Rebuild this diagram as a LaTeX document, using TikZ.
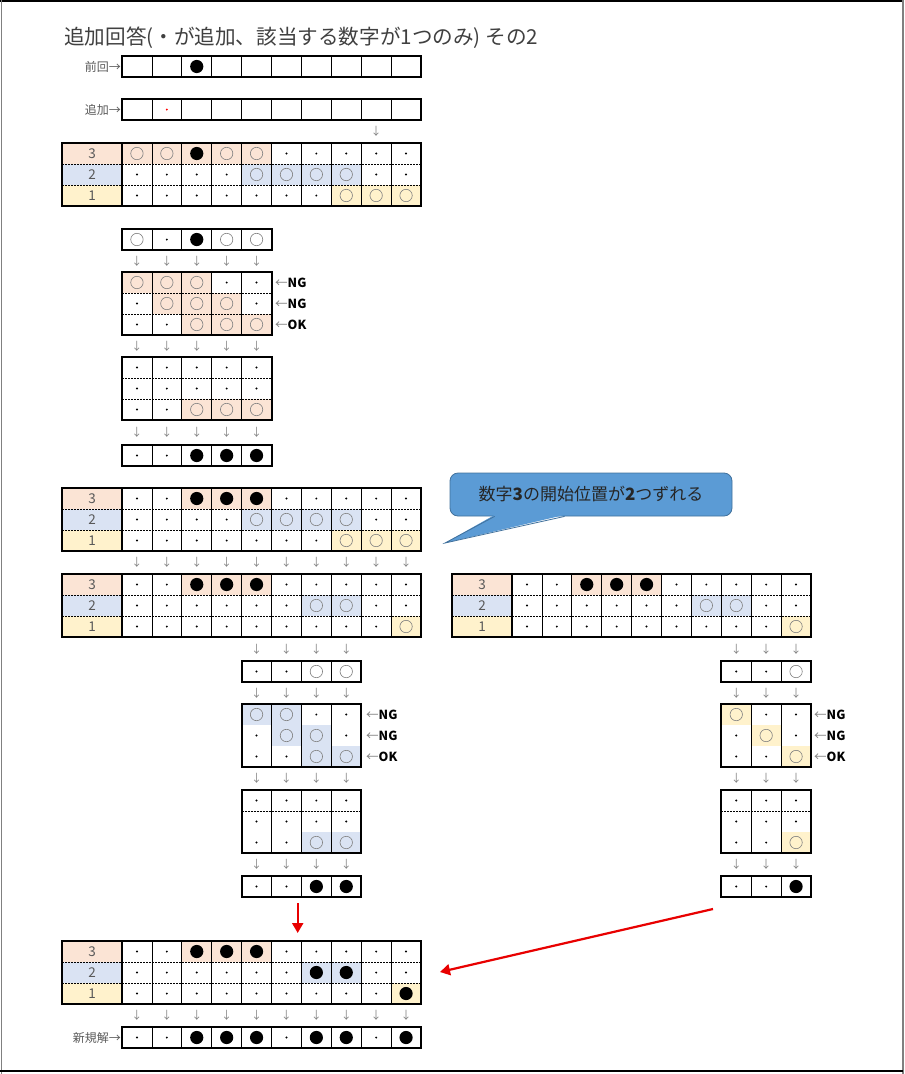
\documentclass[tikz,border=0pt]{standalone}
\usepackage{fontspec}
\setmainfont{Noto Sans CJK JP}
\usetikzlibrary{arrows.meta}

\definecolor{peachbg}{RGB}{251,228,213}
\definecolor{skybg}{RGB}{218,227,243}
\definecolor{creambg}{RGB}{255,242,204}
\definecolor{notefill}{RGB}{91,155,213}
\definecolor{noteedge}{RGB}{65,113,156}
\definecolor{inkgray}{RGB}{89,89,89}
\definecolor{arrowred}{RGB}{232,0,0}

\def\cellw{29.9}
\def\rowh{21}

\tikzset{
  cell/.style={rectangle, minimum width=\cellw, minimum height=\rowh, inner sep=0pt, outer sep=0pt},
  mNone/.style={cell},
  mDot/.style={cell, path picture={\fill[black] (path picture bounding box.center) circle (1.1);}},
  mRed/.style={cell, path picture={\fill[red] (path picture bounding box.center) circle (1.1);}},
  mRing/.style={cell, path picture={\draw[gray, line width=0.6pt] (path picture bounding box.center) circle (6.2);}},
  mDisc/.style={cell, path picture={\fill[black] (path picture bounding box.center) circle (6.6);}},
  shP/.style={fill=peachbg}, shB/.style={fill=skybg}, shY/.style={fill=creambg}, shN/.style={},
  labcell/.style={rectangle, minimum width=60, minimum height=\rowh, inner sep=0pt, outer sep=0pt,
    text=inkgray, font=\fontsize{13.5}{13.5}\selectfont},
  cellline/.style={line width=0.8pt},
  rowsep/.style={line width=0.8pt, dash pattern=on 2pt off 1pt},
  border/.style={line width=2pt},
  dnarrow/.style={text=gray, font=\fontsize{11}{11}\selectfont, inner sep=0pt},
  sidelab/.style={anchor=east, text=inkgray, font=\fontsize{12}{12}\selectfont, inner sep=0pt},
  verdict/.style={anchor=west, font=\fontsize{12.5}{12.5}\selectfont, inner sep=0pt},
  notebox/.style={fill=notefill, draw=noteedge, line width=0.8pt, rounded corners=8pt,
    minimum width=282, minimum height=43, text=black!85, font=\fontsize{17}{17}\selectfont},
  redarrow/.style={arrowred, line width=2.2pt, -{Triangle[length=10pt,width=11pt]}}
}

% one row of cells: name, left x, top y, list of mark/shade
\newcommand{\cellrow}[4]{%
  \foreach \m/\s [count=\i] in {#4}
    \node[\m,\s] (#1-\i) at ({#2+(\i-0.5)*\cellw},{#3+\rowh/2}) {};}
% cell lines and outer border: left x, top y, cells, rows
\newcommand{\blockbox}[4]{%
  \foreach \k in {1,...,#3} \draw[cellline] ({#1+\k*\cellw},{#2}) -- ++(0,{#4*\rowh});
  \draw[border] ({#1},{#2}) rectangle ++({#3*\cellw},{#4*\rowh});}
\newcommand{\rowsepline}[3]{\draw[rowsep] ({#1},{#2}) -- ++({#3},0);}
% arrows under cells: name, left x, y, count
\newcommand{\downs}[4]{%
  \foreach \i in {1,...,#4} \node[dnarrow] (#1-\i) at ({#2+(\i-0.5)*\cellw},{#3}) {↓};}
% table with 3-2-1 labels: name, left x, top y, rows 3, 2, 1
\newcommand{\maintable}[6]{%
  \node[labcell,shP] (#1-k3) at ({#2+30},{#3+10.5}) {3};
  \node[labcell,shB] (#1-k2) at ({#2+30},{#3+31.5}) {2};
  \node[labcell,shY] (#1-k1) at ({#2+30},{#3+52.5}) {1};
  \cellrow{#1-r3}{#2+60}{#3}{#4}
  \cellrow{#1-r2}{#2+60}{#3+21}{#5}
  \cellrow{#1-r1}{#2+60}{#3+42}{#6}
  \draw[cellline] ({#2+60},{#3}) -- ++(0,63);
  \rowsepline{#2}{#3+21}{359}
  \rowsepline{#2}{#3+42}{359}
  \blockbox{#2+60}{#3}{10}{3}
  \draw[border] ({#2},{#3}) rectangle ++(359,63);}

\begin{document}
\begin{tikzpicture}[x=1pt, y=-1pt]
  \useasboundingbox (0,0) rectangle (905,1074);
  % Frame
  \draw[line width=1.5pt] (0,0.75) -- (903,0.75);
  \draw[gray] (1,0) -- (1,1074);
  \draw[gray, line width=1.5pt] (903,0) -- (903,1074);
  \draw[line width=1.5pt] (0,1071) -- (903,1071);

  % Title
  \node[anchor=west, inner sep=0pt, text=black!75, font=\fontsize{20.6}{20.6}\selectfont] (title) at (64,38)
    {追加回答(・が追加、該当する数字が1つのみ) その2};

  % Previous and added answer
  \node[sidelab] (prevlab) at (121,66.5) {前回→};
  \cellrow{prev}{122}{56}{mNone/shN,mNone/shN,mDisc/shN,mNone/shN,mNone/shN,mNone/shN,mNone/shN,mNone/shN,mNone/shN,mNone/shN}
  \blockbox{122}{56}{10}{1}
  \node[sidelab] (addlab) at (121,109.5) {追加→};
  \cellrow{add}{122}{99}{mNone/shN,mRed/shN,mNone/shN,mNone/shN,mNone/shN,mNone/shN,mNone/shN,mNone/shN,mNone/shN,mNone/shN}
  \blockbox{122}{99}{10}{1}
  \node[dnarrow] (adddn) at (376.2,131) {↓};

  % Table 1
  \maintable{ta}{62}{143}
    {mRing/shP,mRing/shP,mDisc/shP,mRing/shP,mRing/shP,mDot/shN,mDot/shN,mDot/shN,mDot/shN,mDot/shN}
    {mDot/shN,mDot/shN,mDot/shN,mDot/shN,mRing/shB,mRing/shB,mRing/shB,mRing/shB,mDot/shN,mDot/shN}
    {mDot/shN,mDot/shN,mDot/shN,mDot/shN,mDot/shN,mDot/shN,mDot/shN,mRing/shY,mRing/shY,mRing/shY}

  % Number 3 check
  \cellrow{sa}{122}{229}{mRing/shN,mDot/shN,mDisc/shN,mRing/shN,mRing/shN}
  \blockbox{122}{229}{5}{1}
  \downs{sadn}{122}{261}{5}
  \cellrow{sb1}{122}{272}{mRing/shP,mRing/shP,mRing/shP,mDot/shN,mDot/shN}
  \cellrow{sb2}{122}{293}{mDot/shN,mRing/shP,mRing/shP,mRing/shP,mDot/shN}
  \cellrow{sb3}{122}{314}{mDot/shN,mDot/shN,mRing/shP,mRing/shP,mRing/shP}
  \rowsepline{122}{293}{149.5}
  \rowsepline{122}{314}{149.5}
  \blockbox{122}{272}{5}{3}
  \node[verdict] (sbv1) at (275,282.5) {{\color{gray}←}\textbf{NG}};
  \node[verdict] (sbv2) at (275,303.5) {{\color{gray}←}\textbf{NG}};
  \node[verdict] (sbv3) at (275,324.5) {{\color{gray}←}\textbf{OK}};
  \downs{sbdn}{122}{346}{5}
  \cellrow{sc1}{122}{357}{mDot/shN,mDot/shN,mDot/shN,mDot/shN,mDot/shN}
  \cellrow{sc2}{122}{378}{mDot/shN,mDot/shN,mDot/shN,mDot/shN,mDot/shN}
  \cellrow{sc3}{122}{399}{mDot/shN,mDot/shN,mRing/shP,mRing/shP,mRing/shP}
  \rowsepline{122}{378}{149.5}
  \rowsepline{122}{399}{149.5}
  \blockbox{122}{357}{5}{3}
  \downs{scdn}{122}{432}{5}
  \cellrow{sd}{122}{445}{mDot/shN,mDot/shN,mDisc/shN,mDisc/shN,mDisc/shN}
  \blockbox{122}{445}{5}{1}

  % Table 2
  \maintable{tb}{62}{488}
    {mDot/shN,mDot/shN,mDisc/shP,mDisc/shP,mDisc/shP,mDot/shN,mDot/shN,mDot/shN,mDot/shN,mDot/shN}
    {mDot/shN,mDot/shN,mDot/shN,mDot/shN,mRing/shB,mRing/shB,mRing/shB,mRing/shB,mDot/shN,mDot/shN}
    {mDot/shN,mDot/shN,mDot/shN,mDot/shN,mDot/shN,mDot/shN,mDot/shN,mRing/shY,mRing/shY,mRing/shY}
  \downs{tbdn}{122}{562}{10}

  % Callout
  \node[notebox] (note) at (591,494.5) {数字\textbf{3}の開始位置が\textbf{2}つずれる};
  \coordinate (notetip) at (445,543);
  \fill[notefill] ([xshift=45,yshift=1.5]note.south west) -- (notetip) -- ([xshift=115,yshift=1.5]note.south west) -- cycle;
  \draw[noteedge, line width=0.8pt] ([xshift=45]note.south west) -- (notetip) -- ([xshift=115]note.south west);

  % Table 3 and its copy
  \maintable{tc}{62}{574}
    {mDot/shN,mDot/shN,mDisc/shP,mDisc/shP,mDisc/shP,mDot/shN,mDot/shN,mDot/shN,mDot/shN,mDot/shN}
    {mDot/shN,mDot/shN,mDot/shN,mDot/shN,mDot/shN,mDot/shN,mRing/shB,mRing/shB,mDot/shN,mDot/shN}
    {mDot/shN,mDot/shN,mDot/shN,mDot/shN,mDot/shN,mDot/shN,mDot/shN,mDot/shN,mDot/shN,mRing/shY}
  \maintable{rc}{452}{574}
    {mDot/shN,mDot/shN,mDisc/shP,mDisc/shP,mDisc/shP,mDot/shN,mDot/shN,mDot/shN,mDot/shN,mDot/shN}
    {mDot/shN,mDot/shN,mDot/shN,mDot/shN,mDot/shN,mDot/shN,mRing/shB,mRing/shB,mDot/shN,mDot/shN}
    {mDot/shN,mDot/shN,mDot/shN,mDot/shN,mDot/shN,mDot/shN,mDot/shN,mDot/shN,mDot/shN,mRing/shY}

  % Number 2 check
  \downs{mada}{241.6}{649}{4}
  \cellrow{ma}{241.6}{661}{mDot/shN,mDot/shN,mRing/shN,mRing/shN}
  \blockbox{241.6}{661}{4}{1}
  \downs{madb}{241.6}{693}{4}
  \cellrow{mb1}{241.6}{704}{mRing/shB,mRing/shB,mDot/shN,mDot/shN}
  \cellrow{mb2}{241.6}{725}{mDot/shN,mRing/shB,mRing/shB,mDot/shN}
  \cellrow{mb3}{241.6}{746}{mDot/shN,mDot/shN,mRing/shB,mRing/shB}
  \blockbox{241.6}{704}{4}{3}
  \node[verdict] (mbv1) at (366,714.5) {{\color{gray}←}\textbf{NG}};
  \node[verdict] (mbv2) at (366,735.5) {{\color{gray}←}\textbf{NG}};
  \node[verdict] (mbv3) at (366,756.5) {{\color{gray}←}\textbf{OK}};
  \downs{madc}{241.6}{778}{4}
  \cellrow{mc1}{241.6}{790}{mDot/shN,mDot/shN,mDot/shN,mDot/shN}
  \cellrow{mc2}{241.6}{811}{mDot/shN,mDot/shN,mDot/shN,mDot/shN}
  \cellrow{mc3}{241.6}{832}{mDot/shN,mDot/shN,mRing/shB,mRing/shB}
  \rowsepline{241.6}{811}{119.6}
  \blockbox{241.6}{790}{4}{3}
  \downs{madd}{241.6}{864}{4}
  \cellrow{md}{241.6}{876}{mDot/shN,mDot/shN,mDisc/shN,mDisc/shN}
  \blockbox{241.6}{876}{4}{1}

  % Number 1 check
  \downs{rada}{721.3}{649}{3}
  \cellrow{ra}{721.3}{661}{mDot/shN,mDot/shN,mRing/shN}
  \blockbox{721.3}{661}{3}{1}
  \downs{radb}{721.3}{693}{3}
  \cellrow{rb1}{721.3}{704}{mRing/shY,mDot/shN,mDot/shN}
  \cellrow{rb2}{721.3}{725}{mDot/shN,mRing/shY,mDot/shN}
  \cellrow{rb3}{721.3}{746}{mDot/shN,mDot/shN,mRing/shY}
  \blockbox{721.3}{704}{3}{3}
  \node[verdict] (rbv1) at (814,714.5) {{\color{gray}←}\textbf{NG}};
  \node[verdict] (rbv2) at (814,735.5) {{\color{gray}←}\textbf{NG}};
  \node[verdict] (rbv3) at (814,756.5) {{\color{gray}←}\textbf{OK}};
  \downs{radc}{721.3}{778}{3}
  \cellrow{rc1}{721.3}{790}{mDot/shN,mDot/shN,mDot/shN}
  \cellrow{rc2}{721.3}{811}{mDot/shN,mDot/shN,mDot/shN}
  \cellrow{rc3}{721.3}{832}{mDot/shN,mDot/shN,mRing/shY}
  \rowsepline{721.3}{811}{89.7}
  \blockbox{721.3}{790}{3}{3}
  \downs{radd}{721.3}{864}{3}
  \cellrow{rd}{721.3}{876}{mDot/shN,mDot/shN,mDisc/shN}
  \blockbox{721.3}{876}{3}{1}

  % Result
  \maintable{td}{62}{941}
    {mDot/shN,mDot/shN,mDisc/shP,mDisc/shP,mDisc/shP,mDot/shN,mDot/shN,mDot/shN,mDot/shN,mDot/shN}
    {mDot/shN,mDot/shN,mDot/shN,mDot/shN,mDot/shN,mDot/shN,mDisc/shB,mDisc/shB,mDot/shN,mDot/shN}
    {mDot/shN,mDot/shN,mDot/shN,mDot/shN,mDot/shN,mDot/shN,mDot/shN,mDot/shN,mDot/shN,mDisc/shY}
  \downs{tddn}{122}{1015}{10}
  \node[sidelab] (newlab) at (121,1037.5) {新規解→};
  \cellrow{new}{122}{1027}{mDot/shN,mDot/shN,mDisc/shN,mDisc/shN,mDisc/shN,mDot/shN,mDisc/shN,mDisc/shN,mDot/shN,mDisc/shN}
  \blockbox{122}{1027}{10}{1}

  % Red arrows
  \coordinate (mdout) at (297.7,903);
  \coordinate (tdtop) at (297.7,933);
  \draw[redarrow] (mdout) -- (tdtop);
  \coordinate (rdout) at (713,909);
  \coordinate (tdside) at (440,972);
  \draw[redarrow] (rdout) -- (tdside);
\end{tikzpicture}
\end{document}
